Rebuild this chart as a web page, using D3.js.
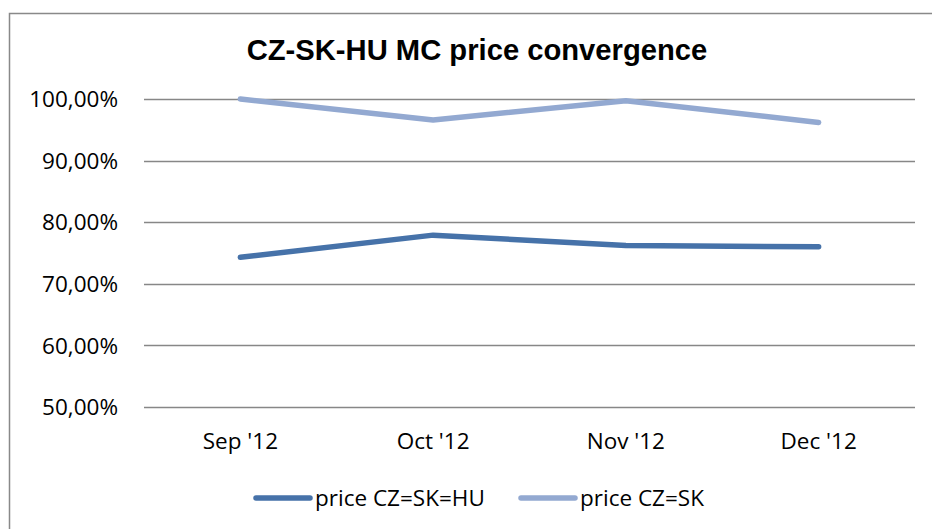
<!DOCTYPE html>
<html>
<head>
<meta charset="utf-8">
<script src="https://d3js.org/d3.v7.min.js"></script>
<style>
  body { margin: 0; background: #fff; }
  svg text { font-family: "Open Sans", sans-serif; fill: #000; }
</style>
</head>
<body>
<div id="chart"></div>
<script>
// data
var categories = ["Sep '12", "Oct '12", "Nov '12", "Dec '12"];
var seriesNames = ["price CZ=SK=HU", "price CZ=SK"];
var czSkHu = [74.3, 77.9, 76.2, 76.0];
var czSk = [100.0, 96.6, 99.7, 96.2];
var yTicks = [50, 60, 70, 80, 90, 100];
var colors = ["#4672a9", "#93a9d1"];

var width = 932, height = 529;
var margin = {left: 144, right: 17, top: 99, bottom: 122};
var fontSize = "22.5px";

var svg = d3.select("#chart")
    .append("svg")
    .attr("width", width)
    .attr("height", height);

// outer chart border (cropped at right and bottom)
svg.append("rect")
    .attr("x", 9.5)
    .attr("y", 13.5)
    .attr("width", 940)
    .attr("height", 540)
    .attr("fill", "#fff")
    .attr("stroke", "#898989")
    .attr("stroke-width", 1.5);

var x = d3.scaleBand()
    .domain(categories)
    .range([margin.left, width - margin.right]);

var y = d3.scaleLinear()
    .domain([50, 100])
    .range([height - margin.bottom, margin.top]);

// gridlines
svg.append("g")
    .attr("class", "grid")
    .selectAll("line")
    .data(yTicks)
    .enter().append("line")
    .attr("x1", margin.left)
    .attr("x2", width - margin.right)
    .attr("y1", function(d) { return Math.round(y(d)) + 0.5; })
    .attr("y2", function(d) { return Math.round(y(d)) + 0.5; })
    .attr("stroke", "#878787")
    .attr("stroke-width", 1.5);

// y labels
svg.append("g")
    .selectAll("text")
    .data(yTicks)
    .enter().append("text")
    .attr("x", 118)
    .attr("y", function(d) { return y(d); })
    .attr("dy", "0.36em")
    .attr("text-anchor", "end")
    .attr("font-size", fontSize)
    .text(function(d) { return d.toFixed(2).replace(".", ",") + "%"; });

// x labels
svg.append("g")
    .selectAll("text")
    .data(categories)
    .enter().append("text")
    .attr("x", function(d) { return x(d) + x.bandwidth() / 2; })
    .attr("y", 449)
    .attr("text-anchor", "middle")
    .attr("font-size", fontSize)
    .text(function(d) { return d; });

// lines
var line = d3.line()
    .x(function(d, i) { return x(categories[i]) + x.bandwidth() / 2; })
    .y(function(d) { return y(d); });

[czSk, czSkHu].forEach(function(vals, k) {
    var ci = k === 0 ? 1 : 0;
    svg.append("path")
        .datum(vals)
        .attr("d", line)
        .attr("fill", "none")
        .attr("stroke", colors[ci])
        .attr("stroke-width", 5.5)
        .attr("stroke-linecap", "round")
        .attr("stroke-linejoin", "round");
});

// title
svg.append("text")
    .attr("x", 477)
    .attr("y", 60)
    .attr("text-anchor", "middle")
    .attr("font-size", "29.2px")
    .attr("font-weight", "bold")
    .style("font-family", "'Liberation Sans', Arial, sans-serif")
    .text("CZ-SK-HU MC price convergence");

// legend
var legendX = [256, 521];
var legend = svg.append("g").attr("class", "legend");
seriesNames.forEach(function(name, i) {
    var g = legend.append("g")
        .attr("transform", "translate(" + legendX[i] + ",498)");
    g.append("line")
        .attr("x1", 0)
        .attr("x2", 54)
        .attr("y1", 0)
        .attr("y2", 0)
        .attr("stroke", colors[i])
        .attr("stroke-width", 5.5)
        .attr("stroke-linecap", "round");
    g.append("text")
        .attr("x", 59)
        .attr("y", 0)
        .attr("dy", "0.36em")
        .attr("font-size", fontSize)
        .text(name);
});
</script>
</body>
</html>
